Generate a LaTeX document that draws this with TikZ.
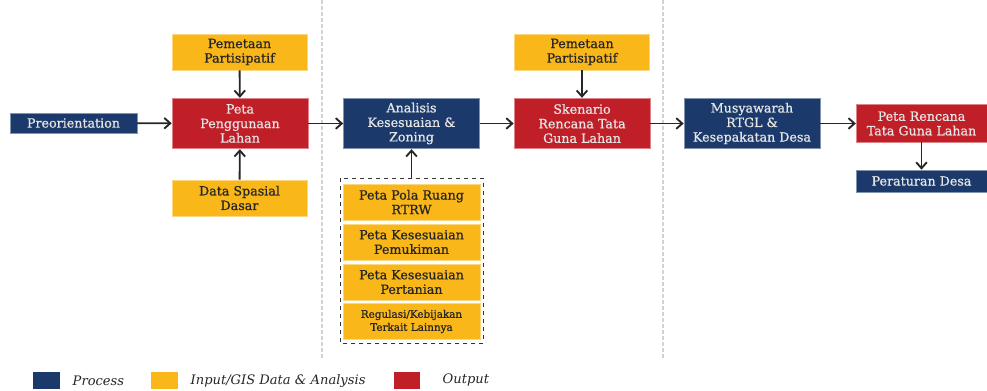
\documentclass[tikz,border=0pt]{standalone}
\usepackage{fontspec}
\setmainfont{DejaVu Serif}
\newfontfamily\boxfont{DejaVu Serif}[FakeBold=0.8]
\usepackage{tikz}
\usetikzlibrary{arrows.meta,positioning}
\definecolor{procblue}{HTML}{1B3A6B}
\definecolor{inyellow}{HTML}{F9B719}
\definecolor{outred}{HTML}{C01F28}

\begin{document}
\begin{tikzpicture}[
  x=0.75pt, y=-0.75pt,
  every node/.style={font=\boxfont\fontsize{9.5}{10.9}\selectfont},
  procbox/.style={draw=procblue!55!white, line width=0.5pt, fill=procblue,
                  text=white!90!black, align=center, inner sep=1pt},
  inbox/.style={draw=inyellow!55!white, line width=0.5pt, fill=inyellow,
                text=black!85, align=center, inner sep=1pt},
  outbox/.style={draw=outred!55!white, line width=0.5pt, fill=outred,
                 text=white!90!black, align=center, inner sep=1pt},
  big/.style={minimum width=102pt, minimum height=38pt},
  small/.style={minimum width=101pt, minimum height=27pt},
  arrow/.style={-{Straight Barb[length=4.5pt, width=8pt]}, line width=1.4pt, black!85},
  sep/.style={gray!35, line width=1.2pt, dash pattern=on 3pt off 1.5pt},
  key/.style={minimum width=20pt, minimum height=13pt, inner sep=0pt},
  keytext/.style={anchor=west, font=\fontsize{9.8}{11}\selectfont\itshape, text=black!85},
]
\useasboundingbox (0,0) rectangle (987,391);

%% Phase separators
\draw[sep] (322,0) -- (322,360);
\draw[sep] (663,0) -- (663,360);

%% Stage 1
\node[procbox, minimum width=95pt, minimum height=15pt] (pre) at (73.5,123) {Preorientation};
\node[outbox, big] (ppl) at (240,123.5) {Peta\\Penggunaan\\Lahan};
\node[inbox, small] (pp1) at (239.5,52) {Pemetaan\\Partisipatif};
\node[inbox, small] (dsd) at (239.5,198) {Data Spasial\\Dasar};

%% Stage 2
\node[procbox, big] (akz) at (411.5,123.5) {Analisis\\Kesesuaian \&\\Zoning};
\node[inbox, minimum width=103pt, minimum height=27pt] (in1) at (411.5,202) {Peta Pola Ruang\\RTRW};
\node[inbox, minimum width=103pt, minimum height=27pt] (in2) at (411.5,242) {Peta Kesesuaian\\Pemukiman};
\node[inbox, minimum width=103pt, minimum height=27pt] (in3) at (411.5,282) {Peta Kesesuaian\\Pertanian};
\node[inbox, minimum width=103pt, minimum height=27pt, font=\boxfont\fontsize{7.8}{9.8}\selectfont] (in4) at (411.5,321.5) {Regulasi/Kebijakan\\Terkait Lainnya};
\draw[black!80, dashed, line width=0.6pt] (340,178) rectangle (483,343);
\coordinate (frame) at (411.5,178);

%% Stage 3
\node[outbox, big] (skn) at (582,123.5) {Skenario\\Rencana Tata\\Guna Lahan};
\node[inbox, small] (pp2) at (582,52) {Pemetaan\\Partisipatif};

%% Stage 4
\node[procbox, big] (mus) at (752,123.5) {Musyawarah\\RTGL \&\\Kesepakatan Desa};
\node[outbox, minimum width=98pt, minimum height=28pt] (prt) at (921.5,123.5) {Peta Rencana\\Tata Guna Lahan};
\node[procbox, minimum width=98pt, minimum height=16.5pt] (prd) at (921.5,181) {Peraturan Desa};

%% Arrows
\draw[arrow] (pre) -- (ppl);
\draw[arrow] (pp1) -- (ppl);
\draw[arrow] (dsd) -- (ppl);
\draw[arrow] (ppl) -- (akz);
\draw[arrow] (frame) -- (akz);
\draw[arrow] (akz) -- (skn);
\draw[arrow] (pp2) -- (skn);
\draw[arrow] (skn) -- (mus);
\draw[arrow] (mus) -- (prt);
\draw[arrow] (prt) -- (prd);

%% Legend
\node[key, fill=procblue] (k1) at (46.5,380.5) {};
\node[keytext] (t1) at (68,380.5) {Process};
\node[key, fill=inyellow] (k2) at (164.5,380.5) {};
\node[keytext] (t2) at (186,380.5) {Input/GIS Data \& Analysis};
\node[key, fill=outred] (k3) at (407,380.5) {};
\node[keytext] (t3) at (438,380.5) {Output};

\end{tikzpicture}
\end{document}
